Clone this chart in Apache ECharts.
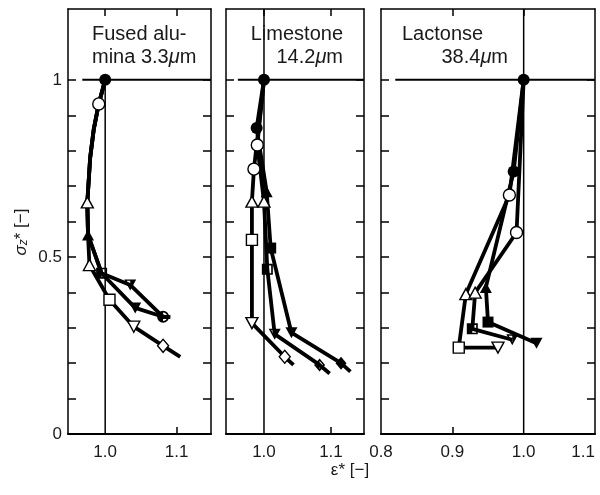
<!DOCTYPE html>
<html>
<head>
<meta charset="utf-8">
<script src="https://cdn.jsdelivr.net/npm/echarts@6/dist/echarts.min.js"></script>
<style>
  html, body { margin: 0; padding: 0; background: #fff; }
  #chart { width: 600px; height: 495px; }
</style>
</head>
<body>
<div id="chart"></div>
<script>
// ε* (x) and σz* (y) along each compression run.
// Mark codes: first letter = fill (f filled, o open, h half), second = shape
// (c circle, t triangle, s square, v inverted triangle, d diamond); '' = no mark.

// Fused alumina 3.3 µm
const aluminaFilledX = [1.000, 0.991, 0.984, 0.979, 0.975, 0.976, 0.995, 1.042, 1.081, 1.091];
const aluminaFilledY = [1.000, 0.932, 0.860, 0.780, 0.654, 0.562, 0.454, 0.356, 0.331, 0.330];
const aluminaFilledMarks = ['fc', '', '', '', '', 'ft', '', 'fv', '', ''];

const aluminaHalfX = [1.000, 0.991, 0.984, 0.979, 0.975, 0.976, 0.995, 1.035, 1.081, 1.091];
const aluminaHalfY = [1.000, 0.932, 0.860, 0.780, 0.654, 0.562, 0.454, 0.421, 0.331, 0.330];
const aluminaHalfMarks = ['', '', '', '', '', '', 'hs', 'hv', 'hc', ''];

const aluminaOpenX = [1.000, 0.991, 0.984, 0.979, 0.975, 0.976, 0.978, 1.006, 1.040, 1.081, 1.105];
const aluminaOpenY = [1.000, 0.932, 0.860, 0.780, 0.654, 0.562, 0.477, 0.379, 0.303, 0.249, 0.218];
const aluminaOpenMarks = ['', 'oc', '', '', 'ot', '', 'ot', 'os', 'ov', 'od', ''];

// Limestone 14.2 µm
const limestoneOpenX = [1.000, 0.985, 0.982, 0.982, 0.982, 1.031, 1.044];
const limestoneOpenY = [1.000, 0.748, 0.656, 0.548, 0.313, 0.218, 0.195];
const limestoneOpenMarks = ['', 'oc', 'ot', 'os', 'ov', 'od', ''];

const limestoneHalfX = [1.000, 0.990, 1.000, 1.005, 1.016, 1.083, 1.098];
const limestoneHalfY = [1.000, 0.816, 0.656, 0.465, 0.282, 0.195, 0.171];
const limestoneHalfMarks = ['', 'oc', 'ot', 'hs', 'hv', 'hd', ''];

const limestoneFilledX = [1.000, 0.989, 1.004, 1.010, 1.041, 1.115, 1.129];
const limestoneFilledY = [1.000, 0.864, 0.684, 0.525, 0.286, 0.200, 0.176];
const limestoneFilledMarks = ['fc', 'fc', 'ft', 'fs', 'fv', 'fd', ''];

// Lactonse 38.4 µm
const lactoseFilledX = [1.000, 0.986, 0.947, 0.950, 1.018];
const lactoseFilledY = [1.000, 0.741, 0.414, 0.316, 0.256];
const lactoseFilledMarks = ['fc', 'fc', 'ft', 'fs', 'fv'];

const lactoseOpenX = [1.000, 0.980, 0.919, 0.909, 0.964];
const lactoseOpenY = [1.000, 0.675, 0.395, 0.244, 0.244];
const lactoseOpenMarks = ['', 'oc', 'ot', 'os', 'ov'];

const lactoseHalfX = [1.000, 0.990, 0.932, 0.928, 0.984];
const lactoseHalfY = [1.000, 0.569, 0.399, 0.297, 0.266];
const lactoseHalfMarks = ['', 'oc', 'ot', 'hs', 'hv'];

// Panel titles
const panelTitles = [
  ['Fused alu-', 'mina 3.3{mu|μ}m'],
  ['Limestone', '14.2{mu|μ}m'],
  ['Lactonse', '38.4{mu|μ}m']
];

// Axis ranges and tick values
const panelXMin = [0.948, 0.9433, 0.8];
const panelXMax = [1.148, 1.1493, 1.1];
const xLabelValues = [[1.0, 1.1], [1.0, 1.1], [0.8, 0.9, 1.0, 1.1]];
const xBottomTicks = [[1.1], [1.1], [0.9]];
const xTopTicks = [[1.0, 1.1], [1.0, 1.1], [0.9, 1.0]];
const yMin = 0, yMax = 1.2;
const yTickValues = [0.1, 0.2, 0.3, 0.4, 0.5, 0.6, 0.7, 0.8, 0.9, 1.0];
const yLabelValues = [0, 0.5, 1];
// reference lines: ε* = 1 (up to the given σz*) and σz* = 1 (from the given ε* to the panel edge)
const refX = 1.0, refY = 1.0;
const refXLineTop = [1.0, 1.2, 1.2];
const refYLineStart = [0.968, 0.961, 0.82];

// ---- layout / style ----
const FONT = 'Liberation Sans, Arial, Helvetica, sans-serif';
const INK = '#000';
const TEXT = '#1a1a1a';
const gridBoxes = [
  { left: 68, width: 143 },
  { left: 226, width: 138 },
  { left: 381, width: 214 }
];
const GRID_TOP = 9, GRID_HEIGHT = 425;

const HALF_PATH = {
  c: 'path://M0,5A5,5,0,1,1,10,5A5,5,0,1,1,0,5Z M5,1.5V8.5A3.5,3.5,0,0,0,8.5,5A3.5,3.5,0,0,0,5,1.5Z',
  t: 'path://M5,0L10,10L0,10Z M5,2.9L5,8.7L7.9,8.7Z',
  s: 'path://M0,0H10V10H0Z M5,1.5V8.5H8.5V1.5Z',
  d: 'path://M5,0L10,5L5,10L0,5Z M5,1.8L5,8.2L8.2,5Z'
};
const BASE_SHAPE = { c: 'circle', t: 'triangle', s: 'rect', v: 'triangle', d: 'diamond' };
const SHAPE_SIZE = { c: 12, t: [12, 11], s: 11, v: [12, 11], d: [11, 13] };

function markStyle(code) {
  const fill = code[0], shape = code[1];
  let symbol, itemStyle;
  if (fill === 'f') {
    symbol = BASE_SHAPE[shape];
    itemStyle = { color: INK, borderWidth: 0, opacity: 1 };
  } else if (fill === 'o') {
    symbol = BASE_SHAPE[shape];
    itemStyle = { color: '#fff', borderColor: INK, borderWidth: 1.4, opacity: 1 };
  } else {
    symbol = HALF_PATH[shape === 'v' ? 't' : shape];
    itemStyle = { color: INK, borderWidth: 0, opacity: 1 };
  }
  return {
    symbol,
    symbolSize: SHAPE_SIZE[shape],
    symbolRotate: shape === 'v' ? 180 : 0,
    symbolKeepAspect: true,
    itemStyle
  };
}

const runs = [
  { panel: 0, x: aluminaFilledX, y: aluminaFilledY, marks: aluminaFilledMarks },
  { panel: 0, x: aluminaHalfX, y: aluminaHalfY, marks: aluminaHalfMarks },
  { panel: 0, x: aluminaOpenX, y: aluminaOpenY, marks: aluminaOpenMarks },
  { panel: 1, x: limestoneOpenX, y: limestoneOpenY, marks: limestoneOpenMarks },
  { panel: 1, x: limestoneHalfX, y: limestoneHalfY, marks: limestoneHalfMarks },
  { panel: 1, x: limestoneFilledX, y: limestoneFilledY, marks: limestoneFilledMarks },
  { panel: 2, x: lactoseFilledX, y: lactoseFilledY, marks: lactoseFilledMarks },
  { panel: 2, x: lactoseOpenX, y: lactoseOpenY, marks: lactoseOpenMarks },
  { panel: 2, x: lactoseHalfX, y: lactoseHalfY, marks: lactoseHalfMarks }
];

const grids = [], xAxes = [], yAxes = [], series = [];

gridBoxes.forEach((box, p) => {
  grids.push({
    left: box.left, width: box.width, top: GRID_TOP, height: GRID_HEIGHT,
    containLabel: false, outerBoundsMode: 'none'
  });
  // bottom axis with labels
  xAxes.push({
    type: 'value', gridIndex: p, position: 'bottom',
    min: panelXMin[p], max: panelXMax[p],
    axisLine: { show: true, onZero: false, lineStyle: { color: INK, width: 2 } },
    axisTick: { show: true, inside: true, length: 7, customValues: xBottomTicks[p], lineStyle: { color: INK, width: 1.5 } },
    axisLabel: {
      show: true, customValues: xLabelValues[p], margin: 10,
      alignMaxLabel: p === 2 ? 'right' : null,
      formatter: v => Number(v).toFixed(1),
      color: TEXT, fontSize: 17, fontFamily: FONT
    },
    splitLine: { show: false }
  });
  // top frame with ticks only
  xAxes.push({
    type: 'value', gridIndex: p, position: 'top',
    min: panelXMin[p], max: panelXMax[p],
    axisLine: { show: true, onZero: false, lineStyle: { color: INK, width: 1.5 } },
    axisTick: { show: true, inside: true, length: 7, customValues: xTopTicks[p], lineStyle: { color: INK, width: 1.5 } },
    axisLabel: { show: false },
    splitLine: { show: false }
  });
  ['left', 'right'].forEach(side => {
    yAxes.push({
      type: 'value', gridIndex: p, position: side,
      min: yMin, max: yMax,
      axisLine: { show: true, onZero: false, lineStyle: { color: INK, width: 1.5 } },
      axisTick: { show: true, inside: true, length: 8, customValues: yTickValues, lineStyle: { color: INK, width: 1.5 } },
      axisLabel: {
        show: p === 0 && side === 'left', customValues: yLabelValues, margin: 6,
        formatter: v => String(v),
        color: TEXT, fontSize: 17, fontFamily: FONT
      },
      splitLine: { show: false }
    });
  });

  // reference lines
  series.push({
    type: 'line', xAxisIndex: 2 * p, yAxisIndex: 2 * p,
    data: [[refX, yMin], [refX, refXLineTop[p]]],
    symbol: 'none', silent: true, animation: false, z: 1,
    lineStyle: { color: INK, width: 1.5 }
  });
  series.push({
    type: 'line', xAxisIndex: 2 * p, yAxisIndex: 2 * p,
    data: [[refYLineStart[p], refY], [panelXMax[p], refY]],
    symbol: 'none', silent: true, animation: false, z: 1,
    lineStyle: { color: INK, width: 2 }
  });
});

runs.forEach(run => {
  const p = run.panel;
  series.push({
    type: 'line', xAxisIndex: 2 * p, yAxisIndex: 2 * p,
    data: run.x.map((v, i) => [v, run.y[i]]),
    symbol: 'none', showSymbol: false, silent: true, animation: false, z: 3,
    lineStyle: { color: INK, width: 3.8, join: 'round', cap: 'butt' }
  });
  const pts = [];
  run.x.forEach((v, i) => {
    const code = run.marks[i];
    if (!code) return;
    pts.push(Object.assign({ value: [v, run.y[i]] }, markStyle(code)));
  });
  series.push({
    type: 'scatter', xAxisIndex: 2 * p, yAxisIndex: 2 * p,
    data: pts, silent: true, animation: false, z: 5,
    itemStyle: { opacity: 1 }
  });
});

const titleGraphics = [];
const titleAnchors = [
  { x: 92, align: 'left' },
  { x: 343, align: 'right' },
  { x: 402, align: 'left' }
];
const secondLineAnchors = [
  { x: 92, align: 'left' },
  { x: 343, align: 'right' },
  { x: 508, align: 'right' }
];
panelTitles.forEach((lines, p) => {
  [titleAnchors[p], secondLineAnchors[p]].forEach((a, k) => {
    titleGraphics.push({
      type: 'text', x: a.x, y: k === 0 ? 34 : 57, z: 10,
      style: {
        text: lines[k], fill: TEXT, fontSize: 20, fontFamily: FONT,
        align: a.align, verticalAlign: 'middle',
        rich: { mu: { fontStyle: 'italic', fontSize: 20, fontFamily: FONT, fill: TEXT } }
      }
    });
  });
});

const chart = echarts.init(document.getElementById('chart'), null, { renderer: 'canvas' });
chart.setOption({
  animation: false,
  backgroundColor: '#fff',
  grid: grids,
  xAxis: xAxes,
  yAxis: yAxes,
  series: series,
  graphic: titleGraphics.concat([
    {
      type: 'text', x: 20, y: 232, rotation: Math.PI / 2,
      style: {
        text: '{i|σ}{sub|z}{n|* [−]}',
        align: 'center', verticalAlign: 'middle',
        rich: {
          i: { fontStyle: 'italic', fontSize: 17, fontFamily: FONT, fill: TEXT, verticalAlign: 'bottom', lineHeight: 20 },
          sub: { fontStyle: 'italic', fontSize: 12, fontFamily: FONT, fill: TEXT, verticalAlign: 'bottom', lineHeight: 14 },
          n: { fontSize: 17, fontFamily: FONT, fill: TEXT, verticalAlign: 'bottom', lineHeight: 20 }
        }
      }
    },
    {
      type: 'text', x: 350, y: 470,
      style: {
        text: 'ε* [−]', fill: TEXT, fontSize: 17, fontFamily: FONT,
        align: 'center', verticalAlign: 'middle'
      }
    }
  ])
});
</script>
</body>
</html>
